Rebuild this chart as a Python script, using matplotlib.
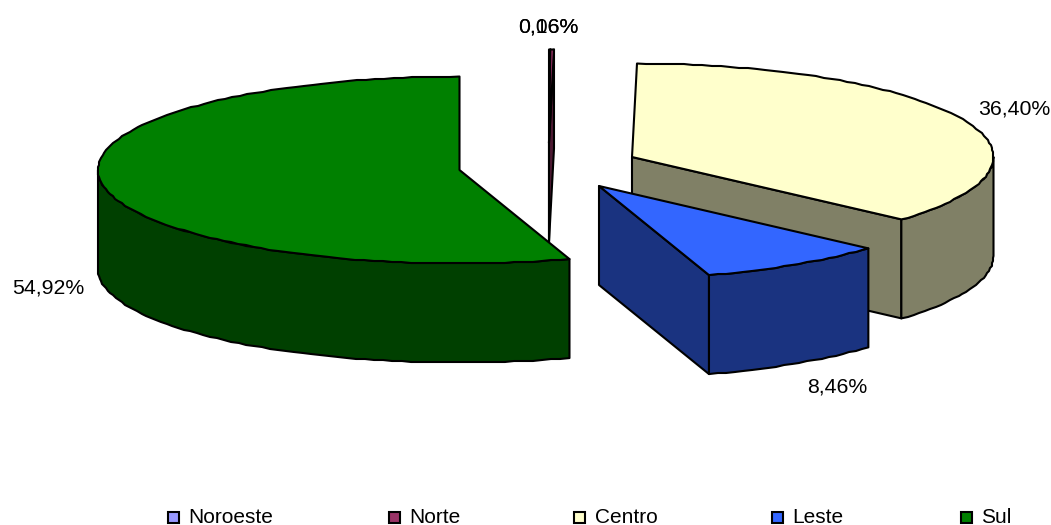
import matplotlib

matplotlib.use("Agg")
import matplotlib.pyplot as plt
import numpy as np
from matplotlib.patches import Polygon, Rectangle

categories = ["Noroeste", "Norte", "Centro", "Leste", "Sul"]
values = [0.06, 0.16, 36.40, 8.46, 54.92]
value_labels = ["0,06%", "0,16%", "36,40%", "8,46%", "54,92%"]
colors = ["#9999ff", "#993366", "#ffffcc", "#3366ff", "#008000"]
wall_colors = ["#4d4d80", "#4d1a33", "#808066", "#1a3380", "#004000"]

# layout in pixels of the 1051x525 picture
RX, RY, DEPTH = 361.5, 93.5, 99
centers = [(549, 143), (549, 143), (632, 157), (599, 186), (459.5, 170)]
label_pos = [(548, 27), (548, 27), (1014, 109), (837.5, 387), (48.5, 288)]
legend_box_x = [168, 389, 574, 772, 961]
legend_text_x = [188, 409, 595, 792, 981]
LEGEND_Y = 517
draw_order = [0, 1, 4, 2, 3]
EDGE = 1.5
FONT = 15.3
LEGEND_FONT = 15

plt.rcParams["font.family"] = ["Liberation Sans", "DejaVu Sans"]


def arc(center, a0, a1, drop=0):
    # whole pixels give the slightly stepped outline of the original
    angles = np.radians(np.linspace(a0, a1, max(int((a1 - a0) / 1.5) + 2, 2)))
    pts = np.column_stack(
        [center[0] + RX * np.sin(angles), center[1] - RY * np.cos(angles) + drop]
    )
    pts[1:-1] = np.round(pts[1:-1])
    return pts


def add_poly(ax, points, color):
    ax.add_patch(Polygon(points, closed=True, facecolor=color, edgecolor="black",
                         linewidth=EDGE, joinstyle="round"))


def cut_wall(center, angle):
    rim = arc(center, angle, angle)[0]
    return [center, rim, (rim[0], rim[1] + DEPTH), (center[0], center[1] + DEPTH)]


def draw_wedge(ax, center, a0, a1, color, wall):
    if 0 < a1 < 180:
        add_poly(ax, cut_wall(center, a1), wall)
    if 180 < a0 < 360:
        add_poly(ax, cut_wall(center, a0), wall)
    lo, hi = max(a0, 90), min(a1, 270)
    if lo < hi:
        add_poly(ax, np.vstack([arc(center, lo, hi), arc(center, lo, hi, DEPTH)[::-1]]), wall)
    add_poly(ax, np.vstack([[center], arc(center, a0, a1)]), color)


fig = plt.figure(figsize=(10.51, 5.25), dpi=100)
ax = fig.add_axes([0, 0, 1, 1])
ax.set_xlim(0, 1051)
ax.set_ylim(525, 0)
ax.axis("off")

edges = np.concatenate([[0], np.cumsum(values)]) / np.sum(values) * 360
for i in draw_order:
    draw_wedge(ax, centers[i], edges[i], edges[i + 1], colors[i], wall_colors[i])

for label, (x, y) in zip(value_labels, label_pos):
    ax.text(x, y, label, ha="center", va="center", fontsize=FONT, color="black")

for name, color, bx, tx in zip(categories, colors, legend_box_x, legend_text_x):
    ax.add_patch(Rectangle((bx, LEGEND_Y - 5.5), 11, 11, facecolor=color,
                           edgecolor="black", linewidth=1.5))
    ax.text(tx, LEGEND_Y + 0.5, name, ha="left", va="center", fontsize=LEGEND_FONT, color="black")

fig.savefig("out.png", dpi=100)
